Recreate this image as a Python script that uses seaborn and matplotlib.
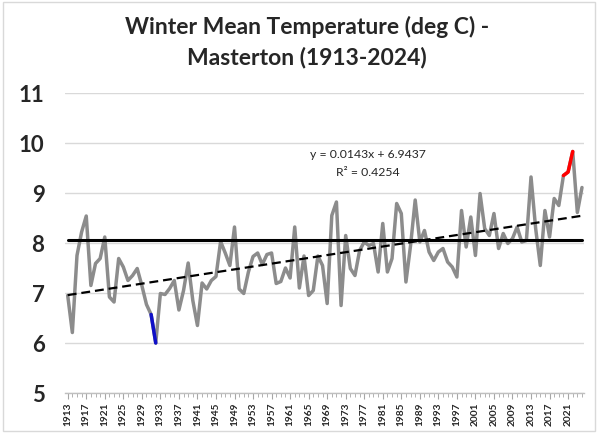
import numpy as np
import pandas as pd
import matplotlib
matplotlib.use("Agg")
import matplotlib.pyplot as plt
import seaborn as sns
from matplotlib.patches import Rectangle
from matplotlib.ticker import FixedLocator

years = list(range(1913, 2025))
temps = [
    6.95, 6.21, 7.75, 8.22, 8.54, 7.15, 7.59, 7.69, 8.12, 6.92,   # 1913-1922
    6.82, 7.69, 7.52, 7.25, 7.35, 7.49, 7.15, 6.77, 6.57, 6.00,   # 1923-1932
    6.99, 6.97, 7.09, 7.25, 6.66, 7.05, 7.60, 6.85, 6.35, 7.20,   # 1933-1942
    7.08, 7.25, 7.33, 8.03, 7.80, 7.55, 8.32, 7.08, 6.99, 7.42,   # 1943-1952
    7.73, 7.80, 7.57, 7.77, 7.80, 7.19, 7.23, 7.50, 7.30, 8.32,   # 1953-1962
    7.10, 7.74, 6.95, 7.05, 7.74, 7.55, 6.79, 8.55, 8.82, 6.75,   # 1963-1972
    8.15, 7.49, 7.35, 7.85, 8.02, 7.95, 7.99, 7.42, 8.39, 7.42,   # 1973-1982
    7.69, 8.79, 8.59, 7.22, 7.95, 8.86, 8.02, 8.25, 7.82, 7.65,   # 1983-1992
    7.82, 7.89, 7.62, 7.52, 7.32, 8.65, 7.92, 8.52, 7.75, 8.99,   # 1993-2002
    8.29, 8.15, 8.59, 7.89, 8.19, 7.99, 8.09, 8.32, 8.02, 8.05,   # 2003-2012
    9.32, 8.29, 7.55, 8.65, 8.12, 8.89, 8.75, 9.35, 9.42, 9.83,   # 2013-2022
    8.61, 9.11,                                                   # 2023-2024
]
assert len(temps) == len(years)

mean_value = 8.07
trend_slope = 0.0143
trend_intercept = 6.9437
r_squared = 0.4254
cold_years = [1931, 1932]
warm_years = [2020, 2021, 2022]
tick_years = years[::4]
y_ticks = [5, 6, 7, 8, 9, 10, 11]
title_line1 = "Winter Mean Temperature (deg C) -"
title_line2 = "Masterton (1913-2024)"

sns.set_style("white")
plt.rcParams['font.family'] = ['Lato', 'DejaVu Sans']

df = pd.DataFrame({"year": years, "temp": temps})
df["idx"] = np.arange(len(df))
df["trend"] = trend_intercept + trend_slope * (df["idx"] + 1)
df["mean"] = mean_value

W, H = 598, 435
fig = plt.figure(figsize=(W / 100, H / 100), dpi=100)
fig.patch.set_facecolor("white")
fig.add_artist(Rectangle((3 / W, 3 / H), (W - 6) / W, (H - 6) / H,
                         transform=fig.transFigure, fill=False,
                         edgecolor="#d9d9d9", linewidth=1))

ax = fig.add_axes([65.4 / W, 41 / H, (584.3 - 65.4) / W, 300 / H])

sns.lineplot(data=df, x="idx", y="mean", ax=ax, color="black", linewidth=2.2, zorder=3)
sns.lineplot(data=df, x="idx", y="temp", ax=ax, color="#8c8c8c", linewidth=2.5, zorder=2)
cold = df[df["year"].isin(cold_years)]
warm = df[df["year"].isin(warm_years)]
sns.lineplot(data=cold, x="idx", y="temp", ax=ax, color="#1010c8", linewidth=2.5, zorder=4)
sns.lineplot(data=warm, x="idx", y="temp", ax=ax, color="#ff0000", linewidth=2.5, zorder=4)
ax.plot(df["idx"], df["trend"], color="black", linewidth=1.6, dashes=(4, 2.2), zorder=5)

ax.set_xlim(-0.5, len(df) - 0.5)
ax.set_ylim(min(y_ticks), max(y_ticks))
ax.set_yticks(y_ticks)
ax.set_yticklabels([str(v) for v in y_ticks], fontsize=16, fontweight="bold")
ax.grid(axis="y", color="#d9d9d9", linewidth=1)
ax.grid(axis="x", visible=False)

tick_idx = [years.index(y) for y in tick_years]
ax.set_xticks(tick_idx)
ax.set_xticklabels([str(y) for y in tick_years], rotation=90, fontsize=7.3,
                   fontweight="bold")
ax.xaxis.set_minor_locator(FixedLocator(df["idx"].tolist()))
ax.tick_params(axis="x", which="major", length=4, width=0.8, color="#a6a6a6",
               pad=2, bottom=True, direction="out")
ax.tick_params(axis="x", which="minor", length=3, width=0.6, color="#a6a6a6",
               bottom=True, direction="out")
ax.tick_params(axis="y", length=0, pad=15)
ax.set_xlabel("")
ax.set_ylabel("")
for s in ["top", "right", "left"]:
    ax.spines[s].set_visible(False)
ax.spines["bottom"].set_color("#bfbfbf")
ax.spines["bottom"].set_linewidth(1)

ax.text(0.583, 0.797, f"y = {trend_slope}x + {trend_intercept}", transform=ax.transAxes,
        ha="center", va="center", fontsize=8.8)
ax.text(0.583, 0.737, f"R\u00b2 = {r_squared}", transform=ax.transAxes,
        ha="center", va="center", fontsize=8.8)

fig.text(307 / W, 1 - 27 / H, title_line1, ha="center", va="center",
         fontsize=16.5, fontweight="bold")
fig.text(307 / W, 1 - 57 / H, title_line2, ha="center", va="center",
         fontsize=16.5, fontweight="bold")

fig.savefig("out.png", dpi=100)
